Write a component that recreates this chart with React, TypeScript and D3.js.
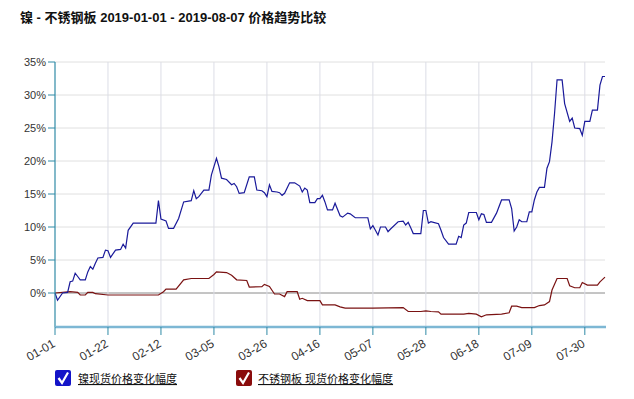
import React from "react";
import * as d3 from "d3";

const title = "镍 - 不锈钢板 2019-01-01 - 2019-08-07 价格趋势比较";

const nickelDates = ["01-01","01-02","01-04","01-06","01-07","01-08","01-09","01-10","01-11","01-13","01-14","01-15","01-16","01-17","01-18","01-20","01-21","01-22","01-23","01-25","01-27","01-28","01-29","01-30","02-01","02-10","02-11","02-12","02-14","02-15","02-17","02-19","02-21","02-24","02-25","02-26","02-27","03-01","03-03","03-04","03-06","03-07","03-08","03-10","03-12","03-13","03-14","03-15","03-17","03-19","03-21","03-22","03-24","03-25","03-26","03-27","03-28","03-30","03-31","04-01","04-02","04-04","04-06","04-08","04-09","04-10","04-11","04-12","04-14","04-15","04-16","04-17","04-18","04-19","04-21","04-22","04-24","04-25","04-27","04-28","04-30","05-05","05-06","05-07","05-08","05-09","05-10","05-12","05-13","05-14","05-17","05-19","05-20","05-21","05-22","05-23","05-26","05-27","05-28","05-29","05-30","05-31","06-02","06-03","06-04","06-06","06-09","06-10","06-11","06-12","06-13","06-14","06-17","06-18","06-19","06-20","06-21","06-23","06-25","06-27","06-30","07-01","07-02","07-03","07-04","07-05","07-07","07-08","07-09","07-10","07-11","07-12","07-14","07-15","07-16","07-17","07-18","07-19","07-21","07-22","07-24","07-25","07-26","07-28","07-29","07-30","08-01","08-02","08-04","08-05","08-06","08-07"];
const nickelValues = [0,-1.1,0,0.1,1.7,1.8,3.0,2.5,2.0,2.0,3.2,4.0,3.6,4.5,5.3,5.4,6.5,6.4,5.4,6.5,6.6,7.4,6.8,9.5,10.6,10.6,14.0,11.2,10.9,9.8,9.8,11.3,13.8,14.0,15.5,14.3,14.6,15.6,15.6,17.9,20.4,19.1,17.4,17.2,16.4,16.6,16.1,15.1,15.2,17.6,17.6,15.6,15.5,15.2,14.6,16.4,15.4,15.3,15.2,14.8,15.1,16.7,16.7,16.2,15.3,15.9,15.6,13.7,13.7,14.3,14.3,14.8,13.8,12.6,12.6,13.6,11.7,11.5,12.1,12.0,11.4,11.4,9.7,10.2,9.5,8.8,10.0,10.0,9.3,9.7,10.8,10.9,10.3,10.7,9.9,9.0,9.0,12.5,12.5,10.6,10.8,10.7,10.5,9.5,8.4,7.4,7.4,8.6,8.4,10.3,10.6,12.2,12.2,11.1,12.0,11.9,10.7,10.7,12.1,14.1,14.1,12.8,9.4,10.0,11.1,10.8,10.8,12.3,12.3,14.1,15.3,16.0,16.0,18.9,19.9,22.9,27.2,32.3,32.3,28.7,26.0,26.5,25.0,24.9,23.9,26.0,26.0,27.7,27.7,31.5,32.8,32.8];

const steelDates = ["01-01","01-07","01-10","01-11","01-13","01-14","01-16","01-17","01-22","02-11","02-13","02-14","02-18","02-21","02-24","03-03","03-05","03-06","03-10","03-12","03-14","03-18","03-19","03-24","03-25","03-27","03-29","03-31","04-02","04-03","04-07","04-08","04-09","04-11","04-16","04-17","04-22","04-24","04-26","05-07","05-19","05-21","05-26","05-28","05-30","06-02","06-03","06-12","06-14","06-17","06-19","06-21","06-27","06-30","07-01","07-03","07-05","07-10","07-12","07-14","07-16","07-17","07-19","07-23","07-24","07-26","07-28","07-29","07-31","08-04","08-05","08-07"];
const steelValues = [0,0.2,0.1,-0.3,-0.3,0.1,0.1,-0.1,-0.3,-0.3,0.2,0.6,0.6,2.0,2.2,2.2,2.8,3.2,3.1,2.7,2.0,1.9,0.9,0.95,1.3,1.0,-0.15,-0.15,-0.55,0.2,0.2,-0.95,-0.8,-1.15,-1.15,-1.8,-1.8,-2.1,-2.3,-2.3,-2.2,-2.8,-2.8,-2.7,-2.8,-2.85,-3.2,-3.2,-3.1,-3.2,-3.6,-3.3,-3.2,-3.0,-2.0,-2.0,-2.2,-2.2,-1.9,-1.8,-1.3,0.45,2.2,2.2,1.1,0.8,0.8,1.6,1.2,1.2,1.7,2.4];

const xTickLabels = ["01-01","01-22","02-12","03-05","03-26","04-16","05-07","05-28","06-18","07-09","07-30"];
const yTickValues = [0,5,10,15,20,25,30,35];

const seriesNames = ["镍现货价格变化幅度", "不锈钢板 现货价格变化幅度"];
const seriesColors = ["#1a1a9a", "#7a1212"];
const legendBoxColors = ["#1414c8", "#8a0c0c"];

const toDate = (md: string) => new Date(2019, +md.slice(0, 2) - 1, +md.slice(3, 5));

export default function App() {
  const W = 634, H = 399;
  const left = 55, right = 605, top = 62, bottom = 327;
  const x = d3.scaleTime().domain([toDate("01-01"), toDate("08-07")]).range([left, right]);
  const y = d3.scaleLinear().domain([-5.15, 35]).range([bottom, top]);

  const mk = (dates: string[], vals: number[]) =>
    d3.line<number>().x((_, i) => x(toDate(dates[i]))).y((v) => y(v))(vals) || "";

  const font = "'Liberation Sans', Arial, 'Noto Sans CJK SC', sans-serif";
  const cjk = "'Liberation Sans', 'Noto Sans CJK SC', sans-serif";

  return (
    <svg width={W} height={H} style={{ position: "absolute", left: 0, top: 0, background: "#fff" }}>
      <rect width={W} height={H} fill="#fff" />
      <text x={20} y={22} fontFamily={cjk} fontWeight="bold" fontSize={13} fill="#111">{title}</text>

      {/* horizontal grid */}
      {yTickValues.map((v) => (
        <line key={"hg" + v} x1={left} x2={right} y1={y(v)} y2={y(v)}
          stroke={v === 0 ? "#8a8a8a" : "#e0e0e0"} strokeWidth={1} />
      ))}
      {/* vertical grid */}
      {xTickLabels.slice(1).map((t) => (
        <line key={"vg" + t} x1={x(toDate(t))} x2={x(toDate(t))} y1={top} y2={bottom}
          stroke="#dcdde6" strokeWidth={1} />
      ))}

      {/* lines */}
      <path d={mk(steelDates, steelValues)} fill="none" stroke={seriesColors[1]} strokeWidth={1.2} />
      <path d={mk(nickelDates, nickelValues)} fill="none" stroke={seriesColors[0]} strokeWidth={1.2} />

      {/* left axis */}
      <line x1={left} x2={left} y1={top} y2={bottom} stroke="#2f8aa6" strokeWidth={1.2} />
      {yTickValues.map((v) => (
        <g key={"yt" + v}>
          <line x1={left - 7} x2={left} y1={y(v)} y2={y(v)} stroke="#2f8aa6" />
          <text x={left - 9} y={y(v) + 4} textAnchor="end" fontFamily={font} fontSize={11} fill="#333">{v + "%"}</text>
        </g>
      ))}

      {/* bottom axis */}
      <line x1={left} x2={right + 1} y1={bottom} y2={bottom} stroke="#7db7d4" strokeWidth={2.5} />
      {xTickLabels.map((t) => {
        const xx = x(toDate(t));
        return (
          <g key={"xt" + t}>
            <line x1={xx} x2={xx} y1={bottom} y2={bottom + 8} stroke="#2f8aa6" />
            <text transform={`translate(${xx + 1},${bottom + 19}) rotate(-30)`} textAnchor="end"
              fontFamily={font} fontSize={12} fill="#333">{t}</text>
          </g>
        );
      })}

      {/* legend */}
      {[{ bx: 55, tx: 78 }, { bx: 236, tx: 258 }].map((p, i) => (
        <g key={"lg" + i}>
          <rect x={p.bx} y={370} width={16} height={16} rx={2} fill={legendBoxColors[i]} />
          <path d={`M${p.bx + 3.5},${378} L${p.bx + 7},${383} L${p.bx + 13},${372.5}`} fill="none" stroke="#fff" strokeWidth={2.2} />
          <text x={p.tx} y={383} fontFamily={cjk} fontSize={11} fill="#111" textDecoration="underline">{seriesNames[i]}</text>
        </g>
      ))}
    </svg>
  );
}
